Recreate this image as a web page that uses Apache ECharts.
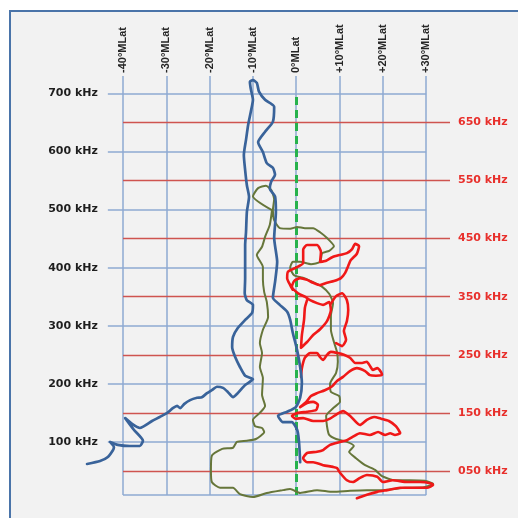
<!DOCTYPE html>
<html>
<head>
<meta charset="utf-8">
<script src="https://cdn.jsdelivr.net/npm/echarts@6/dist/echarts.min.js"></script>
<style>
  html, body { margin: 0; padding: 0; background: #ffffff; }
  #chart { width: 518px; height: 518px; }
</style>
</head>
<body>
<div id="chart"></div>
<script>
// Magnetic latitude ticks (degrees) and frequency reference levels (kHz)
const latTicks = [-40, -30, -20, -10, 0, 10, 20, 30];
const kHzTicks = [100, 200, 300, 400, 500, 600, 700];
const redKHzTicks = [50, 150, 250, 350, 450, 550, 650];

// Traces as [magnetic latitude (deg), frequency (kHz)]
const blueTrace = [
  [-48.3,62],[-45.3,67],[-43.5,74],[-42.3,86],[-42.1,91],[-43.0,100],[-41.2,95],[-38.4,93],[-36.1,93],
  [-35.4,102],[-37.5,121],[-39.5,141],[-37.9,131],[-36.1,124],[-33.3,136],[-31.5,143],[-29.8,150],
  [-28.5,158],[-27.5,162],[-26.8,158],[-25.9,165],[-24.5,172],[-22.9,176],[-21.8,177],[-20.6,184],
  [-19.5,189],[-18.3,195],[-16.9,193],[-15.8,186],[-14.6,177],[-13.5,184],[-11.8,198],[-10.0,208],
  [-11.8,214],[-13.0,229],[-14.1,246],[-14.8,263],[-14.6,281],[-13.5,296],[-11.8,310],[-10.2,322],
  [-10.0,336],[-11.4,344],[-11.9,356],[-11.8,382],[-11.8,410],[-11.8,439],[-11.6,461],[-11.4,496],
  [-10.9,522],[-11.4,542],[-11.8,568],[-12.1,594],[-11.6,620],[-11.1,646],[-10.5,668],[-10.0,689],
  [-10.5,708],[-10.7,720],[-10.0,723],[-9.1,718],[-8.6,703],[-7.2,689],[-5.1,677],[-5.4,651],
  [-7.2,634],[-8.8,616],[-7.7,599],[-6.8,580],[-5.4,572],[-4.9,560],[-5.8,548],[-6.1,536],
  [-4.9,523],[-4.7,496],[-5.1,451],[-4.4,410],[-4.9,375],[-5.4,348],[-3.8,336],[-2.1,324],
  [-1.4,310],[-0.8,288],[0.2,258],[0.9,229],[1.3,202],[0.9,176],[-0.1,160],[-2.1,152],[-4.2,145],
  [-3.1,134],[-1.0,134],[0.2,121],[0.6,103],[0.9,65]
];

const oliveTrace = [
  [-5.6,499],[-10.0,523],[-8.8,537],[-7.0,541],[-5.8,534],[-5.1,518],[-5.4,499],[-5.1,482],
  [-3.8,468],[-1.4,467],[0.2,470],[2.0,468],[3.9,468],[5.5,461],[7.1,451],[8.7,437],[7.6,429],
  [6.0,425],[5.5,410],[3.4,406],[0.9,410],[-0.8,410],[-1.4,400],[-0.5,387],[1.8,382],[3.9,375],
  [6.0,367],[7.6,355],[8.5,339],[8.0,317],[8.0,293],[8.7,272],[9.4,255],[9.6,238],[9.2,219],
  [7.8,200],[8.0,186],[9.9,179],[10.1,169],[8.5,158],[6.9,145],[7.1,127],[7.6,112],[9.2,105],
  [11.7,100],[13.3,93],[12.2,83],[13.8,72],[15.9,60],[18.2,52],[19.8,41],[22.8,34],[26.3,34],
  [29.7,33],[31.6,28],[29.5,22],[25.1,21],[20.0,17],[16.3,17],[12.4,16],[8.5,14],[4.8,17],
  [0.9,12],[-1.4,19],[-3.1,17],[-6.8,12],[-10.0,5],[-13.0,10],[-14.6,21],[-17.6,21],[-19.5,31],
  [-19.7,52],[-19.5,76],[-17.1,88],[-14.6,90],[-13.7,100],[-11.4,102],[-9.3,105],[-7.4,117],
  [-7.9,124],[-9.5,127],[-10.0,138],[-8.4,150],[-7.2,162],[-7.9,181],[-7.7,210],[-8.4,229],
  [-7.9,253],[-8.4,270],[-7.7,293],[-6.5,315],[-6.8,341],[-7.4,358],[-7.7,379],[-7.7,401],
  [-9.1,422],[-7.9,436],[-7.2,453],[-6.1,474],[-5.6,499]
];

const redTraceUpper = [
  [-0.8,362],[-1.4,370],[-2.1,382],[-1.9,393],[0.2,401],[1.6,408],[1.6,431],[2.5,439],[4.8,439],
  [5.7,427],[5.5,410],[6.9,412],[8.3,418],[10.1,422],[11.7,425],[12.9,432],[13.6,441],[14.5,437],
  [14.0,424],[12.6,413],[12.0,403],[11.3,391],[10.3,382],[8.7,377],[7.1,374],[5.5,370],[3.9,374],
  [2.5,379],[0.9,382],[-0.5,377],[-1.0,367],[0.4,356],[2.0,350],[3.2,344],[4.8,339],[6.2,336],
  [7.6,341],[8.0,327],[7.1,308],[5.5,294],[3.9,284],[2.5,272],[1.1,262],[1.3,284],[1.8,310],
  [2.0,331],[2.5,344]
];

const redBubble = [
  [8.0,338],[9.2,351],[10.6,356],[11.7,344],[12.0,327],[11.7,308],[11.0,291],[11.5,276],
  [10.6,265],[9.2,270]
];

const redTraceLower = [
  [1.1,212],[1.3,227],[2.0,245],[3.2,253],[4.8,253],[5.5,246],[6.2,241],[7.1,250],[8.0,255],
  [9.6,253],[11.0,250],[12.4,245],[13.6,236],[15.2,236],[16.3,238],[17.0,231],[17.7,224],
  [18.7,227],[19.6,220],[19.8,215],[18.4,214],[17.0,215],[15.9,222],[14.0,227],[12.4,222],
  [10.8,212],[9.4,205],[8.3,196],[6.6,189],[4.8,184],[3.4,179],[2.3,169],[0.9,160],[2.5,167],
  [3.9,169],[5.0,164],[4.6,155],[2.5,152],[0.4,150],[-1.0,145],[-0.1,140],[1.6,141],[3.9,136],
  [6.2,136],[7.8,140],[9.4,148],[10.8,153],[12.4,145],[14.7,129],[16.3,138],[18.0,143],
  [19.6,140],[21.4,136],[23.0,127],[24.0,115],[22.8,112],[21.7,115],[20.5,112],[18.9,117],
  [17.0,112],[14.7,115],[13.1,109],[11.7,103],[10.1,100],[7.8,95],[6.2,86],[4.8,83],[2.5,81],
  [1.6,72],[2.5,65],[3.9,65],[6.2,60],[8.5,57],[9.4,55],[10.1,47],[11.7,34],[13.1,31],[14.7,38],
  [16.3,43],[18.7,40],[20.0,31],[22.3,34],[25.6,31],[28.6,31],[30.9,29],[31.6,26],[30.2,21],
  [27.9,21],[24.0,21],[21.0,17],[18.7,14],[16.3,9],[14.0,3]
];

// Axis extents and grid-line spans
const LAT_MIN = -50, LAT_MAX = 35.5;
const KHZ_MIN = 0, KHZ_MAX = 730;
const FRAME_FLOOR = 8.6;        // lowest drawn level of the lattice
const BLUE_LINE_START = -43.5;  // blue levels run a little past the -40 line

const gridBlue = '#8eaad2';
const gridRed = '#cf5450';
const labelFont = 'DejaVu Sans';

const chart = echarts.init(document.getElementById('chart'), null, { renderer: 'canvas' });

function markOnly(name, z, data, lineStyle, label) {
  return {
    type: 'line', name, data: [], z, silent: true, clip: false, symbol: 'none',
    markLine: {
      silent: true, animation: false, symbol: ['none', 'none'],
      lineStyle, label: label || { show: false },
      emphasis: { disabled: true },
      data
    }
  };
}

function trace(name, data, color, width, z) {
  return {
    type: 'line', name, data, z, clip: false, symbol: 'none', showSymbol: false,
    smooth: 0.2, silent: true,
    lineStyle: { color, width, cap: 'round', join: 'round' },
    emphasis: { disabled: true }
  };
}

const option = {
  animation: false,
  backgroundColor: '#ffffff',
  graphic: [{
    type: 'rect', z: -10, silent: true,
    shape: { x: 10, y: 11, width: 700, height: 700 },
    style: { fill: '#f2f2f2', stroke: '#4a74a9', lineWidth: 2 }
  }],
  grid: { left: 79.7, right: 68, top: 76, bottom: 18, containLabel: false, outerBoundsMode: 'none' },
  xAxis: {
    type: 'value', position: 'top', min: LAT_MIN, max: LAT_MAX, interval: 10,
    axisLine: { show: false }, axisTick: { show: false }, splitLine: { show: false },
    axisLabel: {
      rotate: 90, margin: 3, fontFamily: 'Liberation Sans', fontWeight: 'bold', fontSize: 11,
      color: '#262626',
      formatter: v => latTicks.includes(v) ? (v > 0 ? '+' : '') + v + '°MLat' : ''
    }
  },
  yAxis: { type: 'value', min: KHZ_MIN, max: KHZ_MAX, show: false },
  series: [
    markOnly('latitude lines', 1,
      latTicks.map(v => [{ coord: [v, FRAME_FLOOR] }, { coord: [v, KHZ_MAX] }])
        .concat([[{ coord: [latTicks[0], FRAME_FLOOR] }, { coord: [latTicks[latTicks.length - 1], FRAME_FLOOR] }]]),
      { color: gridBlue, width: 1.5, type: 'solid' }),
    markOnly('kHz levels', 1,
      kHzTicks.map(v => [{ name: v + ' kHz', coord: [BLUE_LINE_START, v] }, { coord: [latTicks[latTicks.length - 1], v] }]),
      { color: gridBlue, width: 1.5, type: 'solid' },
      { show: true, position: 'start', distance: 10, formatter: '{b}', color: '#1e1e1e',
        fontFamily: labelFont, fontWeight: 'bold', fontSize: 11 }),
    markOnly('red levels', 2,
      redKHzTicks.map(v => [{ name: String(v).padStart(3, '0') + ' kHz', coord: [latTicks[0], v] }, { coord: [LAT_MAX, v] }]),
      { color: gridRed, width: 1.3, type: 'solid' },
      { show: true, position: 'end', distance: 8, formatter: '{b}', color: '#e8302c',
        fontFamily: labelFont, fontWeight: 'bold', fontSize: 11 }),
    markOnly('equator', 3,
      [[{ coord: [0, FRAME_FLOOR] }, { coord: [0, kHzTicks[kHzTicks.length - 1]] }]],
      { color: '#27b24c', width: 3, type: [8, 5] }),
    trace('olive', oliveTrace, '#66763a', 2, 5),
    trace('red upper', redTraceUpper, '#f01818', 2.6, 6),
    trace('red bubble', redBubble, '#f01818', 2.6, 6),
    trace('red lower', redTraceLower, '#f01818', 2.6, 6),
    trace('blue', blueTrace, '#39639a', 2.7, 7)
  ]
};

chart.setOption(option);
</script>
</body>
</html>
